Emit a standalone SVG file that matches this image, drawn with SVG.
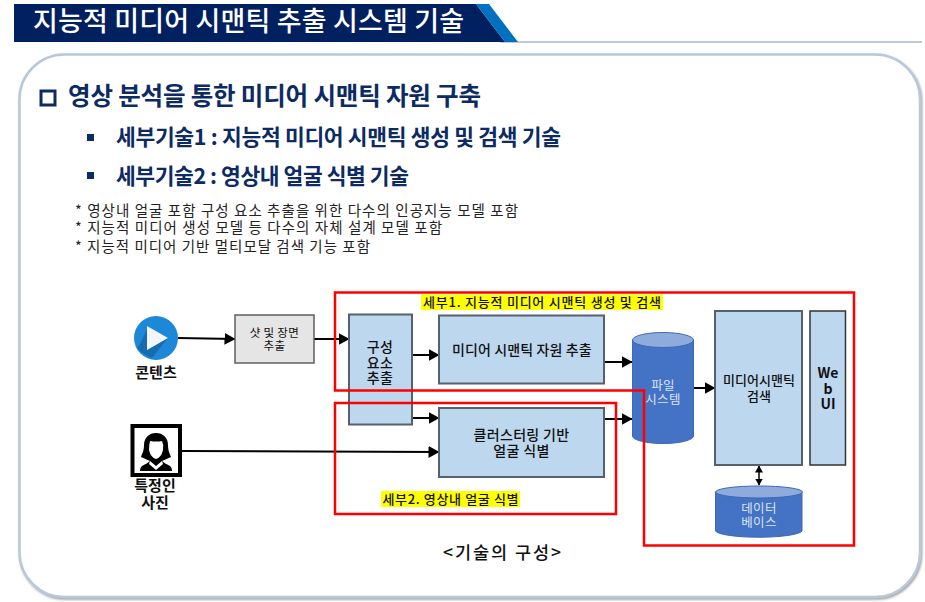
<svg xmlns="http://www.w3.org/2000/svg" width="925" height="602" viewBox="0 0 925 602">
<style>
text{font-family:"Noto Sans CJK KR","Noto Sans",sans-serif;text-anchor:middle;fill:#111}
.h{font-weight:700;fill:#0c2a63;text-anchor:start}
.n{font-size:14.5px;text-anchor:start;fill:#222}
.box{fill:#bdd7ee;stroke:#55626d;stroke-width:2}
.b{font-size:14px;font-weight:500;letter-spacing:.35px}
.w{font-size:12.5px;fill:#d9e4f5;letter-spacing:.3px}
.red{fill:none;stroke:#ff0000;stroke-width:2.5}
.cy{fill:#4472c4;stroke:#3f68b2;stroke-width:1}
.top{fill:#8faadc;stroke:#3f68b2;stroke-width:1}
.ln{fill:none;stroke:#000;stroke-width:2;marker-end:url(#a)}
.hl{fill:#ffff00}
.lb{font-size:15px;font-weight:700}
</style>
<defs>
<marker id="a" markerUnits="userSpaceOnUse" markerWidth="11" markerHeight="12" refX="10.5" refY="6" orient="auto"><path d="M0 0L11 6L0 12Z" fill="#000"/></marker>
<marker id="d" markerUnits="userSpaceOnUse" markerWidth="7" markerHeight="8" refX="6.5" refY="4" orient="auto-start-reverse"><path d="M0 0L7 4L0 8Z" fill="#000"/></marker>
<filter id="sh" x="-2%" y="-2%" width="104%" height="104%"><feDropShadow dx="1" dy="1.500" stdDeviation="1" flood-color="#777" flood-opacity=".7"/></filter>
</defs>
<rect width="925" height="602" fill="#fff"/>
<g id="header">
<path d="M500 42H922" stroke="#a9b8cc" stroke-width="1.5"/>
<path d="M14 4H476L505 42H14Z" fill="#00205f"/>
<path d="M476 4H489L518 42H505Z" fill="#0070c0"/>
<text x="33" y="31" style="text-anchor:start;font-size:27px;font-weight:500;fill:#fff" textLength="431">지능적 미디어 시맨틱 추출 시스템 기술</text>
</g>
<rect id="panel" x="19.500" y="54.500" width="900.500" height="542.500" rx="45" fill="#fff" stroke="#b9c8da" stroke-width="2.500" filter="url(#sh)"/>
<g id="headings">
<rect x="41" y="91" width="14" height="14" fill="none" stroke="#0c2a63" stroke-width="3"/>
<text class="h" x="68" y="105" font-size="24.500" textLength="413">영상 분석을 통한 미디어 시맨틱 자원 구축</text>
<rect x="87" y="134" width="7" height="7" fill="#0c2a63"/>
<text class="h" x="116" y="145" font-size="21.500" textLength="445">세부기술1 : 지능적 미디어 시맨틱 생성 및 검색 기술</text>
<rect x="87" y="172" width="7" height="7" fill="#0c2a63"/>
<text class="h" x="116" y="184" font-size="21.500" textLength="293">세부기술2 : 영상내 얼굴 식별 기술</text>
<text class="n" x="75" y="216" textLength="443">* 영상내 얼굴 포함 구성 요소 추출을 위한 다수의 인공지능 모델 포함</text>
<text class="n" x="75" y="233" textLength="367">* 지능적 미디어 생성 모델 등 다수의 자체 설계 모델 포함</text>
<text class="n" x="75" y="252" textLength="295">* 지능적 미디어 기반 멀티모달 검색 기능 포함</text>
</g>
<g id="connectors">
<path class="ln" d="M178 338L235 339"/>
<path class="ln" d="M314 339H349"/>
<path class="ln" d="M412 355H439"/>
<path class="ln" d="M412 418H439"/>
<path class="ln" d="M182 451L439 452"/>
<path class="ln" d="M604 362H632"/>
<path class="ln" d="M604 419H632"/>
<path class="ln" d="M694 388H715"/>
<path d="M759 466V485" fill="none" stroke="#000" stroke-width="1.500" marker-start="url(#d)" marker-end="url(#d)"/>
</g>
<g id="content">
<circle cx="156" cy="338" r="22" fill="#1e88d8"/>
<path d="M148 327L168 338L152 358Q143 355 137 348L140 344Z" fill="#14639f" opacity=".75"/>
<path d="M147 326L168 338L147 350Z" fill="#f2f6fb"/>
<text class="lb" x="156" y="378">콘텐츠</text>
</g>
<g id="photo">
<rect x="132.500" y="426" width="47.500" height="49" fill="#fff" stroke="#000" stroke-width="4"/>
<path d="M156 433c-8 0-12 6-12 12 0 6-2 9-3 12l9 4-4 3c-4 1.500-6 3-6 7h32c0-4-2-5.500-6-7l-4-3 9-4c-1-3-3-6-3-12 0-6-4-12-12-12z" fill="#000"/>
<path d="M150 441q7 1 12 0 2 4 1 9-2 8-7 9-5-1-7-9 0-5 1-9zM150 461l6 5 6-5 1 3-7 6-7-6z" fill="#fff"/>
<text class="lb" x="155" y="491">특정인<tspan x="155" dy="17">사진</tspan></text>
</g>
<g id="shot">
<rect x="235" y="315" width="79" height="48" fill="#e5e5e5" stroke="#5f5f5f" stroke-width="1.500"/>
<text x="274.500" y="337" font-size="11.500" style="letter-spacing:.3px">샷 및 장면<tspan x="274.500" dy="13">추출</tspan></text>
</g>
<g id="extract">
<rect class="box" x="349" y="314.500" width="63" height="110"/>
<text class="b" x="380" y="352">구성<tspan x="380" dy="15.500">요소</tspan><tspan x="380" dy="15.500">추출</tspan></text>
</g>
<g id="semantic">
<rect class="box" x="439" y="315.500" width="165" height="68"/>
<text class="b" x="522" y="355" textLength="140">미디어 시맨틱 자원 추출</text>
</g>
<g id="cluster">
<rect class="box" x="439" y="408" width="165" height="69"/>
<text class="b" x="521.500" y="440">클러스터링 기반<tspan x="521.500" dy="16">얼굴 식별</tspan></text>
</g>
<g id="filesystem">
<path class="cy" d="M632.500 340V436A30.500 7.500 0 0 0 693.500 436V340Z"/>
<ellipse class="top" cx="663" cy="340" rx="30.500" ry="7.500"/>
<text class="w" x="663" y="390">파일<tspan x="663" dy="13.500">시스템</tspan></text>
</g>
<g id="search">
<rect class="box" x="715" y="311" width="87" height="154"/>
<text class="b" x="759" y="385" style="font-size:13px;letter-spacing:0">미디어시맨틱<tspan x="759" dy="16">검색</tspan></text>
</g>
<g id="webui">
<rect class="box" x="810" y="311" width="35.500" height="154" style="stroke:#333;stroke-width:1.500"/>
<text class="b" x="828" y="378" style="font-weight:700;letter-spacing:0">We<tspan x="828" dy="16">b</tspan><tspan x="828" dy="15">UI</tspan></text>
</g>
<g id="database">
<path class="cy" d="M715.500 492V531A43.500 7 0 0 0 802 531V492Z"/>
<ellipse class="top" cx="759" cy="492" rx="43.500" ry="6"/>
<text class="w" x="759" y="513">데이터<tspan x="759" dy="13.500">베이스</tspan></text>
</g>
<g id="regions">
<path class="red" d="M335 292.500H854V545.500H644V390.500H335Z"/>
<rect class="red" x="335" y="403" width="281" height="111"/>
<rect class="hl" x="421" y="294.500" width="242" height="15.500"/>
<text x="542" y="306.500" style="font-size:13px;font-weight:500" textLength="238">세부1. 지능적 미디어 시맨틱 생성 및 검색</text>
<rect class="hl" x="381" y="491" width="139" height="16"/>
<text x="450.500" y="503.500" style="font-size:13px;font-weight:500" textLength="136">세부2. 영상내 얼굴 식별</text>
<text x="502" y="559" style="font-size:17.500px;font-weight:500" textLength="118">&lt;기술의 구성&gt;</text>
</g>
</svg>
